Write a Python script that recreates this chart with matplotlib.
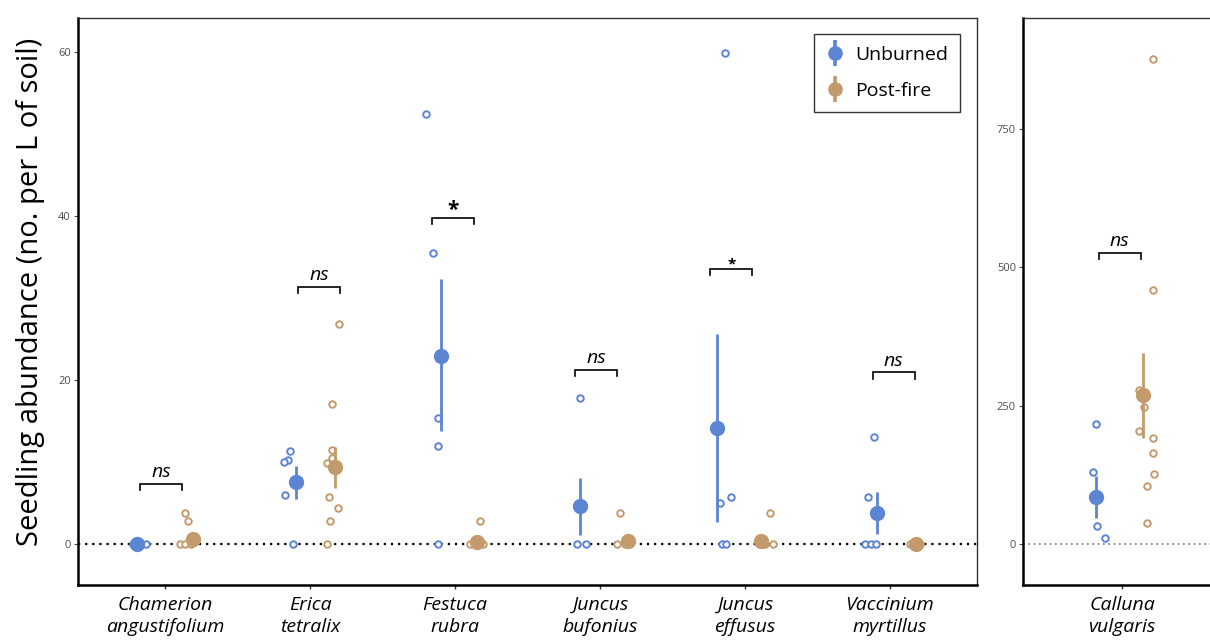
import matplotlib
matplotlib.use("Agg")
import matplotlib.pyplot as plt
from matplotlib.lines import Line2D
from matplotlib.legend_handler import HandlerTuple
import numpy as np

plt.rcParams['font.family'] = ['Open Sans', 'DejaVu Sans']

# ---------------- data ----------------
species = ["Chamerion\nangustifolium", "Erica\ntetralix", "Festuca\nrubra",
           "Juncus\nbufonius", "Juncus\neffusus", "Vaccinium\nmyrtillus"]

unb_mean = [0.0, 7.6, 22.9, 4.6, 14.1, 3.8]
unb_lo = [0.0, 5.5, 13.8, 1.1, 2.7, 1.2]
unb_hi = [0.0, 9.5, 32.3, 8.0, 25.6, 6.3]
pf_mean = [0.6, 9.4, 0.2, 0.4, 0.4, 0.0]
pf_lo = [0.4, 6.8, 0.0, 0.1, 0.1, 0.0]
pf_hi = [0.8, 11.8, 0.4, 0.7, 0.7, 0.0]

unb_points = [
    [0, 0, 0],
    [11.3, 10.2, 10.0, 6.0, 0],
    [52.4, 35.5, 15.4, 12.0, 0],
    [17.8, 0, 0],
    [59.8, 5.0, 5.7, 0, 0],
    [13.0, 5.7, 0, 0, 0],
]
pf_points = [
    [3.8, 2.8, 0, 0, 0],
    [26.8, 17.0, 11.5, 10.5, 9.9, 5.7, 4.4, 2.8, 0],
    [2.8, 0, 0, 0],
    [3.8, 0, 0],
    [3.8, 0, 0],
    [0, 0, 0],
]
signif = ["ns", "ns", "*", "ns", "*", "ns"]

cal_label = "Calluna\nvulgaris"
cal_unb_mean, cal_unb_lo, cal_unb_hi = 85, 47, 123
cal_pf_mean, cal_pf_lo, cal_pf_hi = 270, 192, 346
cal_unb_points = [217, 130, 33, 11]
cal_pf_points = [877, 460, 279, 248, 205, 192, 165, 127, 105, 38]
cal_signif = "ns"

# ---------------- layout (horizontal jitter / dodge) ----------------
unb_mean_dx = [-0.19, -0.10, -0.10, -0.14, -0.19, -0.09]
pf_mean_dx = [0.19, 0.17, 0.15, 0.19, 0.11, 0.18]
unb_pt_dx = [
    [-0.22, -0.17, -0.13],
    [-0.14, -0.15, -0.18, -0.17, -0.12],
    [-0.20, -0.15, -0.12, -0.12, -0.12],
    [-0.14, -0.16, -0.10],
    [-0.14, -0.17, -0.10, -0.16, -0.13],
    [-0.11, -0.15, -0.17, -0.13, -0.10],
]
pf_pt_dx = [
    [0.14, 0.16, 0.10, 0.14, 0.18],
    [0.20, 0.15, 0.15, 0.15, 0.12, 0.13, 0.19, 0.14, 0.12],
    [0.17, 0.10, 0.15, 0.19],
    [0.14, 0.12, 0.17],
    [0.17, 0.14, 0.19],
    [0.14, 0.18, 0.21],
]
br_left = [-0.17, -0.08, -0.16, -0.17, -0.24, -0.12]
br_right = [0.12, 0.21, 0.13, 0.12, 0.05, 0.17]
br_y = [7.3, 31.3, 39.7, 21.2, 33.5, 20.9]

cal_unb_mean_dx, cal_pf_mean_dx = -0.18, 0.145
cal_unb_pt_dx = [-0.18, -0.20, -0.17, -0.12]
cal_pf_pt_dx = [0.215, 0.215, 0.12, 0.15, 0.12, 0.215, 0.21, 0.22, 0.17, 0.17]
cal_br = (-0.16, 0.13, 527)

BLUE = "#5b84d3"
TAN = "#c39a6b"

fig = plt.figure(figsize=(12.10, 6.42), dpi=100)
ax = fig.add_axes([78 / 1210, 1 - 585 / 642, 899 / 1210, 567 / 642])
ax2 = fig.add_axes([1023 / 1210, 1 - 585 / 642, 198 / 1210, 567 / 642])


def style_axes(a):
    for s in ["left", "bottom"]:
        a.spines[s].set_linewidth(1.8)
        a.spines[s].set_color("black")
    for s in ["top", "right"]:
        a.spines[s].set_linewidth(1.0)
        a.spines[s].set_color("#333333")
    a.tick_params(axis="y", labelsize=8, labelcolor="#4d4d4d", color="#4d4d4d",
                  length=3, width=0.8, pad=2)
    a.tick_params(axis="x", labelsize=14, color="#333333", length=3, width=1.0, pad=5)
    for lab in a.get_xticklabels():
        lab.set_fontstyle("italic")
        lab.set_linespacing(1.25)


def draw_group(a, x, mean, lo, hi, pts, pts_dx, color):
    a.scatter([x + d for d in pts_dx], pts, s=22, facecolors="white",
              edgecolors=color, linewidths=1.4, zorder=3)
    a.errorbar([x], [mean], yerr=[[mean - lo], [hi - mean]], fmt="o", color=color,
               markersize=10, elinewidth=2.0, capsize=0, zorder=4)


def bracket(a, xl, xr, y, drop, text, kind):
    a.plot([xl, xl, xr, xr], [y - drop, y, y, y - drop], color="black", lw=1.2,
           solid_joinstyle="miter", zorder=5)
    if kind == "ns":
        a.annotate(text, xy=((xl + xr) / 2, y), xytext=(0, 2), textcoords="offset points",
                   ha="center", va="bottom", fontsize=14, fontstyle="italic")
    else:
        a.annotate(text, xy=((xl + xr) / 2, y), xytext=(0, -2), textcoords="offset points",
                   ha="center", va="bottom", fontsize=kind, fontweight="bold")


xpos = np.arange(1, len(species) + 1)
ax.axhline(0, color="black", lw=1.6, linestyle=(0, (1, 2.2)), zorder=1)
for i, x in enumerate(xpos):
    draw_group(ax, x + unb_mean_dx[i], unb_mean[i], unb_lo[i], unb_hi[i],
               unb_points[i], [d - unb_mean_dx[i] for d in unb_pt_dx[i]], BLUE)
    draw_group(ax, x + pf_mean_dx[i], pf_mean[i], pf_lo[i], pf_hi[i],
               pf_points[i], [d - pf_mean_dx[i] for d in pf_pt_dx[i]], TAN)
    kind = "ns" if signif[i] == "ns" else (15 if i == 2 else 11)
    bracket(ax, x + br_left[i], x + br_right[i], br_y[i], 0.75, signif[i], kind)

ax.set_xlim(0.4, 6.6)
ax.set_ylim(-5.0, 64.1)
ax.set_yticks([0, 20, 40, 60])
ax.set_xticks(xpos)
ax.set_xticklabels(species)
ax.set_ylabel("Seedling abundance (no. per L of soil)", fontsize=21)
ax.yaxis.set_label_coords(-33 / 899, 0.5 + 10 / 567)
style_axes(ax)

# legend
def leg_handle(color):
    bar = Line2D([], [], linestyle="none", marker="|", markersize=19,
                 markeredgewidth=2.6, color=color)
    dot = Line2D([], [], linestyle="none", marker="o", markersize=9.5, color=color)
    return (bar, dot)


leg = ax.legend([leg_handle(BLUE), leg_handle(TAN)], ["Unburned", "Post-fire"],
                handler_map={tuple: HandlerTuple(ndivide=1)},
                loc="upper right", bbox_to_anchor=(1 - 17 / 899, 1 - 16 / 567),
                fontsize=14, frameon=True, fancybox=False, edgecolor="black",
                handlelength=1.0, handletextpad=0.55, borderpad=0.6,
                labelspacing=0.95, borderaxespad=0)
leg.get_frame().set_linewidth(1.0)

# right panel
ax2.axhline(0, color="#777777", lw=1.2, linestyle=(0, (1, 2.2)), zorder=1)
draw_group(ax2, 1 + cal_unb_mean_dx, cal_unb_mean, cal_unb_lo, cal_unb_hi,
           cal_unb_points, [d - cal_unb_mean_dx for d in cal_unb_pt_dx], BLUE)
draw_group(ax2, 1 + cal_pf_mean_dx, cal_pf_mean, cal_pf_lo, cal_pf_hi,
           cal_pf_points, [d - cal_pf_mean_dx for d in cal_pf_pt_dx], TAN)
bracket(ax2, 1 + cal_br[0], 1 + cal_br[1], cal_br[2], 11, cal_signif, "ns")
ax2.set_xlim(0.32, 1.68)
ax2.set_ylim(-74, 951)
ax2.set_yticks([0, 250, 500, 750])
ax2.set_xticks([1])
ax2.set_xticklabels([cal_label])
style_axes(ax2)

fig.savefig("out.png", dpi=100)
